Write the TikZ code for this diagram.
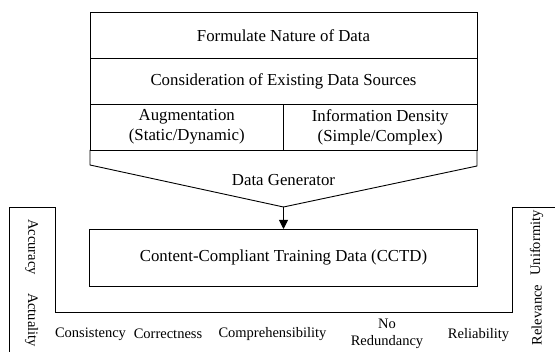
\documentclass[tikz,border=0pt]{standalone}
\usepackage{fontspec}
\setmainfont{Liberation Serif}
\usetikzlibrary{arrows.meta}
\begin{document}
\begin{tikzpicture}[x=1pt,y=-1pt,
  line width=0.9pt,
  cell/.style={draw, rectangle, inner sep=0pt, outer sep=0pt, align=center,
    font=\fontsize{16.8}{20}\selectfont},
  plain/.style={inner sep=0pt, outer sep=0pt, align=center,
    font=\fontsize{16.8}{20}\selectfont},
  crit/.style={inner sep=0pt, outer sep=0pt, align=center,
    font=\fontsize{14.5}{16.5}\selectfont},
  flow/.style={-{Triangle[length=9pt,width=9pt]}}]
\useasboundingbox (0,0) rectangle (555,352);
% top stack
\node[cell, minimum width=387pt, minimum height=45.3pt] (formulate) at (283.5,35.35) {Formulate Nature of Data};
\node[cell, minimum width=387pt, minimum height=46pt] (consider) at (283.5,81) {Consideration of Existing Data Sources};
\node[cell, minimum width=193.5pt, minimum height=46pt] (aug) at (186.75,127) {Augmentation\\(Static/Dynamic)};
\node[cell, minimum width=193.5pt, minimum height=46pt] (info) at (380.25,127) {Information Density\\(Simple/Complex)};
% funnel (data generator)
\draw (90,150) -- (90,165) -- (283.5,207) coordinate (tip) -- (477,166) -- (477,150);
\node[plain] (gen) at (283.5,180) {Data Generator};
% CCTD
\node[cell, minimum width=388pt, minimum height=57pt] (cctd) at (283.5,257.5) {Content-Compliant Training Data (CCTD)};
\draw[flow] (tip) -- (cctd.north);
% outer bracket
\draw (9,360) -- (9,207) -- (55,207) -- (55,312) -- (512,312) -- (512,207) -- (560,207);
% side criteria
\node[crit, rotate=-90] (accuracy) at (31.7,247) {Accuracy};
\node[crit, rotate=-90] (actuality) at (31.7,320) {Actuality};
\node[crit, rotate=90] (uniformity) at (536.7,243) {Uniformity};
\node[crit, rotate=90] (relevance) at (536.7,315) {Relevance};
% bottom criteria
\node[crit] (consistency) at (90.5,334) {Consistency};
\node[crit] (correctness) at (168,334) {Correctness};
\node[crit] (compre) at (272.5,334) {Comprehensibility};
\node[crit] (noredund) at (387,334) {No\\Redundancy};
\node[crit] (reliab) at (478.5,335) {Reliability};
\end{tikzpicture}
\end{document}
